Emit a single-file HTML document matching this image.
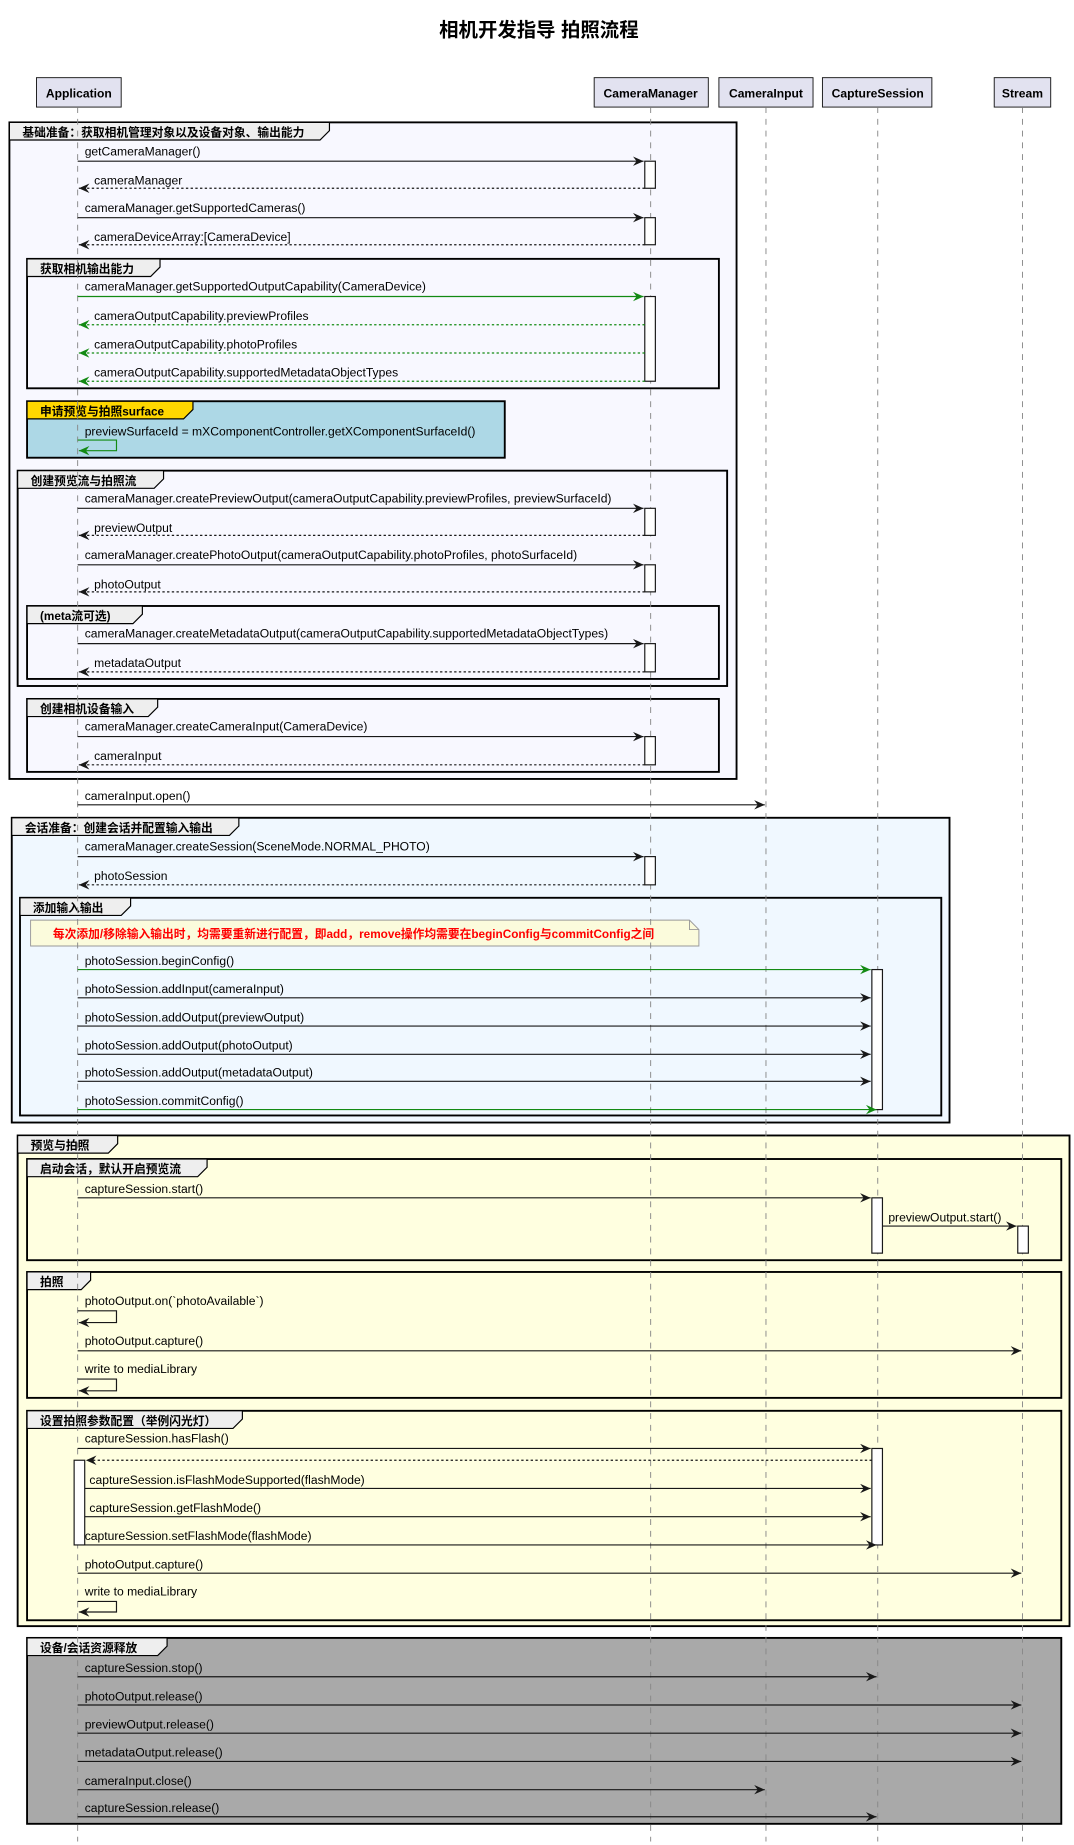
<!DOCTYPE html>
<html><head><meta charset="utf-8"><style>
html,body{margin:0;padding:0;background:#fff;}
svg{display:block;}
text{font-family:"Liberation Sans","Noto Sans CJK SC",sans-serif;font-size:10.3px;fill:#000;}
.t{font-weight:bold;font-size:10px;}
.g{stroke:#000;stroke-width:1.6;}
.a{stroke:#181818;stroke-width:1;fill:none;}
.ag{stroke:#138a13;stroke-width:1;fill:none;}
.d{stroke-dasharray:2,2;}
.act{fill:#fff;stroke:#181818;stroke-width:1;}
.ll{stroke:#888;stroke-width:0.8;stroke-dasharray:5,5;}
.p{fill:#e2e2f0;stroke:#181818;stroke-width:0.8;}
</style></head><body>
<svg width="1074" height="1845" viewBox="0 0 912.8 1568" preserveAspectRatio="none" xmlns="http://www.w3.org/2000/svg">
<defs>
<marker id="m" markerWidth="10" markerHeight="10" refX="9" refY="4" orient="auto" markerUnits="userSpaceOnUse"><path d="M0,0 L9,4 L0,8 L3,4 Z" fill="#181818"/></marker>
<marker id="mg" markerWidth="10" markerHeight="10" refX="9" refY="4" orient="auto" markerUnits="userSpaceOnUse"><path d="M0,0 L9,4 L0,8 L3,4 Z" fill="#138a13"/></marker>
</defs>
<text x="458" y="31" text-anchor="middle" style="font-size:16.5px;font-weight:bold">相机开发指导 拍照流程</text>

<g class="g">
<rect x="8" y="104" width="618" height="558" fill="#f8f8ff"/>
<rect x="23" y="220" width="588" height="110" fill="#f8f8ff"/>
<rect x="23" y="341" width="406" height="48" fill="#add8e6"/>
<rect x="15" y="400" width="603" height="183" fill="#f8f8ff"/>
<rect x="23" y="515" width="588" height="62" fill="#f8f8ff"/>
<rect x="23" y="594" width="588" height="62" fill="#f8f8ff"/>
<rect x="10" y="695" width="797" height="259" fill="#f0f8ff"/>
<rect x="17" y="763" width="783" height="185" fill="#f0f8ff"/>
<rect x="15" y="965" width="894" height="417" fill="#ffffe0"/>
<rect x="23" y="985" width="879" height="86" fill="#ffffe0"/>
<rect x="23" y="1081" width="879" height="107" fill="#ffffe0"/>
<rect x="23" y="1199" width="879" height="178" fill="#ffffe0"/>
<rect x="23" y="1392" width="879" height="158" fill="#a9a9a9"/>
</g>
<g stroke="#000" stroke-width="1" fill="#eee">
<path d="M8,104 H280 V111 L272,119 H8 Z"/>
<path d="M23,220 H136 V227 L128,235 H23 Z"/>
<path d="M23,341 H164 V348 L156,356 H23 Z" fill="#ffd700"/>
<path d="M15,400 H139 V407 L131,415 H15 Z"/>
<path d="M23,515 H121 V522 L113,530 H23 Z"/>
<path d="M23,594 H134 V601 L126,609 H23 Z"/>
<path d="M10,695 H203 V702 L195,710 H10 Z"/>
<path d="M17,763 H111 V770 L103,778 H17 Z"/>
<path d="M15,965 H100 V972 L92,980 H15 Z"/>
<path d="M23,985 H176 V992 L168,1000 H23 Z"/>
<path d="M23,1081 H77 V1088 L69,1096 H23 Z"/>
<path d="M23,1199 H206 V1206 L198,1214 H23 Z"/>
<path d="M23,1392 H142 V1399 L134,1407 H23 Z"/>
</g>
<g class="t">
<text class="t" x="19" y="116">基础准备：获取相机管理对象以及设备对象、输出能力</text>
<text class="t" x="34" y="232">获取相机输出能力</text>
<text class="t" x="34" y="353">申请预览与拍照surface</text>
<text class="t" x="26" y="412">创建预览流与拍照流</text>
<text class="t" x="34" y="527">(meta流可选)</text>
<text class="t" x="34" y="606">创建相机设备输入</text>
<text class="t" x="21" y="707">会话准备：创建会话并配置输入输出</text>
<text class="t" x="28" y="775">添加输入输出</text>
<text class="t" x="26" y="977">预览与拍照</text>
<text class="t" x="34" y="997">启动会话，默认开启预览流</text>
<text class="t" x="34" y="1093">拍照</text>
<text class="t" x="34" y="1211">设置拍照参数配置（举例闪光灯）</text>
<text class="t" x="34" y="1404">设备/会话资源释放</text>
</g>

<path d="M26,782 H586 L594,790 V804 H26 Z" fill="#fbfbdc" stroke="#999" stroke-width="0.8"/>
<path d="M586,782 V790 H594" fill="none" stroke="#999" stroke-width="0.8"/>
<text x="45" y="797" style="fill:#ff0000;font-weight:bold;font-size:10px">每次添加/移除输入输出时，均需要重新进行配置，即add，remove操作均需要在beginConfig与commitConfig之间</text>

<rect class="p" x="31" y="66" width="72" height="25"/><text x="67" y="83" text-anchor="middle" style="font-weight:bold">Application</text>
<rect class="p" x="505" y="66" width="97" height="25"/><text x="553" y="83" text-anchor="middle" style="font-weight:bold">CameraManager</text>
<rect class="p" x="611" y="66" width="80" height="25"/><text x="651" y="83" text-anchor="middle" style="font-weight:bold">CameraInput</text>
<rect class="p" x="699" y="66" width="93" height="25"/><text x="746" y="83" text-anchor="middle" style="font-weight:bold">CaptureSession</text>
<rect class="p" x="845" y="66" width="48" height="25"/><text x="869" y="83" text-anchor="middle" style="font-weight:bold">Stream</text>

<line class="ll" x1="66" y1="91" x2="66" y2="1565"/>
<line class="ll" x1="553" y1="91" x2="553" y2="1565"/>
<line class="ll" x1="651" y1="91" x2="651" y2="1565"/>
<line class="ll" x1="746" y1="91" x2="746" y2="1565"/>
<line class="ll" x1="869" y1="91" x2="869" y2="1565"/>

<rect class="act" x="548" y="137" width="9" height="23"/>
<rect class="act" x="548" y="185" width="9" height="23"/>
<rect class="act" x="548" y="252" width="9" height="72"/>
<rect class="act" x="548" y="432" width="9" height="23"/>
<rect class="act" x="548" y="480" width="9" height="23"/>
<rect class="act" x="548" y="547" width="9" height="24"/>
<rect class="act" x="548" y="626" width="9" height="24"/>
<rect class="act" x="548" y="728" width="9" height="24"/>
<rect class="act" x="741" y="824" width="9" height="119"/>
<rect class="act" x="741" y="1018" width="9" height="47"/>
<rect class="act" x="865" y="1042" width="9" height="23"/>
<rect class="act" x="741" y="1231" width="9" height="82"/>
<rect class="act" x="63" y="1241" width="9" height="72"/>

<g>
<line class="a" x1="66" y1="137" x2="547" y2="137" marker-end="url(#m)"/><text x="72" y="132">getCameraManager()</text>
<line class="a d" x1="548" y1="160" x2="67" y2="160" marker-end="url(#m)"/><text x="80" y="157">cameraManager</text>
<line class="a" x1="66" y1="185" x2="547" y2="185" marker-end="url(#m)"/><text x="72" y="180">cameraManager.getSupportedCameras()</text>
<line class="a d" x1="548" y1="208" x2="67" y2="208" marker-end="url(#m)"/><text x="80" y="205">cameraDeviceArray:[CameraDevice]</text>

<line class="ag" x1="66" y1="252" x2="547" y2="252" marker-end="url(#mg)"/><text x="72" y="247">cameraManager.getSupportedOutputCapability(CameraDevice)</text>
<line class="ag d" x1="548" y1="276" x2="67" y2="276" marker-end="url(#mg)"/><text x="80" y="272">cameraOutputCapability.previewProfiles</text>
<line class="ag d" x1="548" y1="300" x2="67" y2="300" marker-end="url(#mg)"/><text x="80" y="296">cameraOutputCapability.photoProfiles</text>
<line class="ag d" x1="548" y1="324" x2="67" y2="324" marker-end="url(#mg)"/><text x="80" y="320">cameraOutputCapability.supportedMetadataObjectTypes</text>

<path class="ag" d="M66,374 H99 V383 H67" marker-end="url(#mg)"/><text x="72" y="370">previewSurfaceId = mXComponentController.getXComponentSurfaceId()</text>

<line class="a" x1="66" y1="432" x2="547" y2="432" marker-end="url(#m)"/><text x="72" y="427">cameraManager.createPreviewOutput(cameraOutputCapability.previewProfiles, previewSurfaceId)</text>
<line class="a d" x1="548" y1="455" x2="67" y2="455" marker-end="url(#m)"/><text x="80" y="452">previewOutput</text>
<line class="a" x1="66" y1="480" x2="547" y2="480" marker-end="url(#m)"/><text x="72" y="475">cameraManager.createPhotoOutput(cameraOutputCapability.photoProfiles, photoSurfaceId)</text>
<line class="a d" x1="548" y1="503" x2="67" y2="503" marker-end="url(#m)"/><text x="80" y="500">photoOutput</text>
<line class="a" x1="66" y1="547" x2="547" y2="547" marker-end="url(#m)"/><text x="72" y="542">cameraManager.createMetadataOutput(cameraOutputCapability.supportedMetadataObjectTypes)</text>
<line class="a d" x1="548" y1="571" x2="67" y2="571" marker-end="url(#m)"/><text x="80" y="567">metadataOutput</text>
<line class="a" x1="66" y1="626" x2="547" y2="626" marker-end="url(#m)"/><text x="72" y="621">cameraManager.createCameraInput(CameraDevice)</text>
<line class="a d" x1="548" y1="650" x2="67" y2="650" marker-end="url(#m)"/><text x="80" y="646">cameraInput</text>

<line class="a" x1="66" y1="684" x2="650" y2="684" marker-end="url(#m)"/><text x="72" y="680">cameraInput.open()</text>

<line class="a" x1="66" y1="728" x2="547" y2="728" marker-end="url(#m)"/><text x="72" y="723">cameraManager.createSession(SceneMode.NORMAL_PHOTO)</text>
<line class="a d" x1="548" y1="752" x2="67" y2="752" marker-end="url(#m)"/><text x="80" y="748">photoSession</text>

<line class="ag" x1="66" y1="824" x2="740" y2="824" marker-end="url(#mg)"/><text x="72" y="820">photoSession.beginConfig()</text>
<line class="a" x1="66" y1="848" x2="740" y2="848" marker-end="url(#m)"/><text x="72" y="844">photoSession.addInput(cameraInput)</text>
<line class="a" x1="66" y1="872" x2="740" y2="872" marker-end="url(#m)"/><text x="72" y="868">photoSession.addOutput(previewOutput)</text>
<line class="a" x1="66" y1="896" x2="740" y2="896" marker-end="url(#m)"/><text x="72" y="892">photoSession.addOutput(photoOutput)</text>
<line class="a" x1="66" y1="919" x2="740" y2="919" marker-end="url(#m)"/><text x="72" y="915">photoSession.addOutput(metadataOutput)</text>
<line class="ag" x1="66" y1="943" x2="745" y2="943" marker-end="url(#mg)"/><text x="72" y="939">photoSession.commitConfig()</text>

<line class="a" x1="66" y1="1018" x2="740" y2="1018" marker-end="url(#m)"/><text x="72" y="1014">captureSession.start()</text>
<line class="a" x1="750" y1="1042" x2="864" y2="1042" marker-end="url(#m)"/><text x="755" y="1038">previewOutput.start()</text>

<path class="a" d="M66,1114 H99 V1124 H67" marker-end="url(#m)"/><text x="72" y="1109">photoOutput.on(`photoAvailable`)</text>
<line class="a" x1="66" y1="1148" x2="868" y2="1148" marker-end="url(#m)"/><text x="72" y="1143">photoOutput.capture()</text>
<path class="a" d="M66,1172 H99 V1182 H67" marker-end="url(#m)"/><text x="72" y="1167">write to mediaLibrary</text>

<line class="a" x1="66" y1="1231" x2="740" y2="1231" marker-end="url(#m)"/><text x="72" y="1226">captureSession.hasFlash()</text>
<line class="a d" x1="741" y1="1241" x2="73" y2="1241" marker-end="url(#m)"/>
<line class="a" x1="72" y1="1265" x2="740" y2="1265" marker-end="url(#m)"/><text x="76" y="1261">captureSession.isFlashModeSupported(flashMode)</text>
<line class="a" x1="72" y1="1289" x2="740" y2="1289" marker-end="url(#m)"/><text x="76" y="1285">captureSession.getFlashMode()</text>
<line class="a" x1="72" y1="1313" x2="745" y2="1313" marker-end="url(#m)"/><text x="72" y="1309">captureSession.setFlashMode(flashMode)</text>
<line class="a" x1="66" y1="1337" x2="868" y2="1337" marker-end="url(#m)"/><text x="72" y="1333">photoOutput.capture()</text>
<path class="a" d="M66,1361 H99 V1370 H67" marker-end="url(#m)"/><text x="72" y="1356">write to mediaLibrary</text>

<line class="a" x1="66" y1="1425" x2="745" y2="1425" marker-end="url(#m)"/><text x="72" y="1421">captureSession.stop()</text>
<line class="a" x1="66" y1="1449" x2="868" y2="1449" marker-end="url(#m)"/><text x="72" y="1445">photoOutput.release()</text>
<line class="a" x1="66" y1="1473" x2="868" y2="1473" marker-end="url(#m)"/><text x="72" y="1469">previewOutput.release()</text>
<line class="a" x1="66" y1="1497" x2="868" y2="1497" marker-end="url(#m)"/><text x="72" y="1493">metadataOutput.release()</text>
<line class="a" x1="66" y1="1521" x2="650" y2="1521" marker-end="url(#m)"/><text x="72" y="1517">cameraInput.close()</text>
<line class="a" x1="66" y1="1544" x2="745" y2="1544" marker-end="url(#m)"/><text x="72" y="1540">captureSession.release()</text>
</g>
</svg>
</body></html>
